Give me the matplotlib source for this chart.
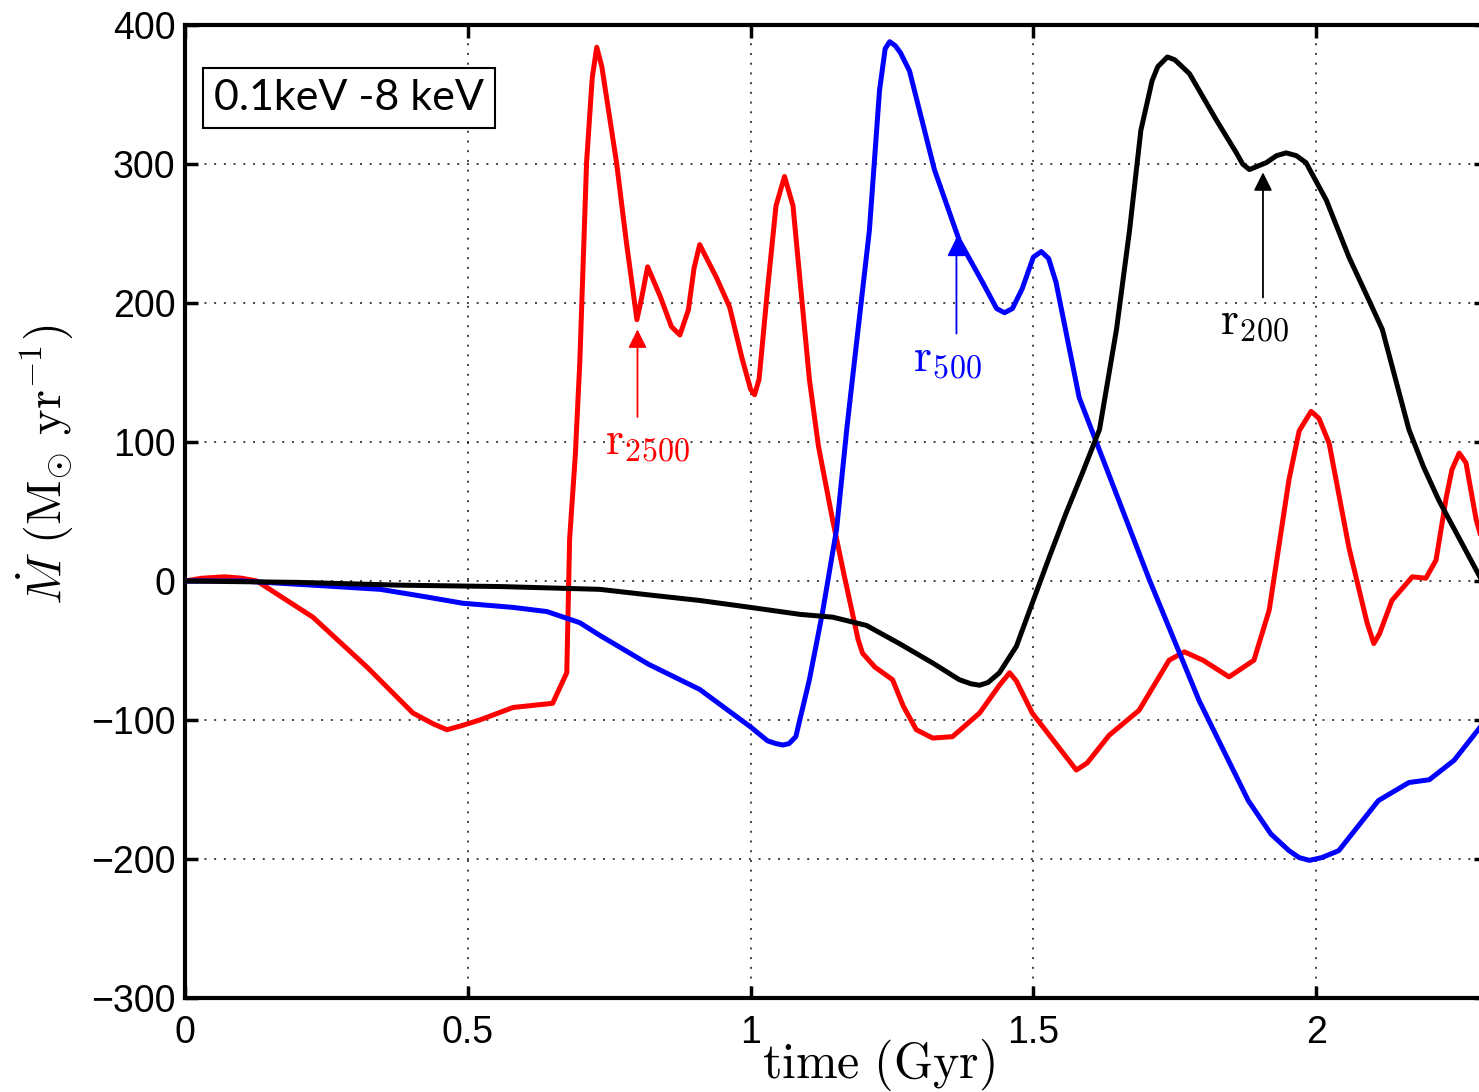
import matplotlib
matplotlib.use("Agg")
import matplotlib.pyplot as plt

# red curve, r2500
t_red = [0, 0.03, 0.07, 0.1, 0.127, 0.226, 0.322, 0.403, 0.44, 0.463, 0.49, 0.521, 0.58,
         0.65, 0.675, 0.68, 0.69, 0.698, 0.71, 0.72, 0.728, 0.737, 0.763, 0.78, 0.799, 0.808,
         0.818, 0.84, 0.86, 0.875, 0.89, 0.9, 0.91, 0.925, 0.94, 0.963, 0.985, 1.0, 1.007,
         1.015, 1.03, 1.045, 1.06, 1.075, 1.09, 1.104, 1.12, 1.145, 1.165, 1.18, 1.19, 1.198,
         1.22, 1.251, 1.27, 1.293, 1.322, 1.357, 1.405, 1.44, 1.458, 1.47, 1.498, 1.555,
         1.576, 1.595, 1.634, 1.687, 1.74, 1.767, 1.80, 1.846, 1.89, 1.917, 1.952, 1.97,
         1.991, 2.005, 2.023, 2.058, 2.09, 2.102, 2.112, 2.134, 2.17, 2.194, 2.212, 2.23,
         2.24, 2.253, 2.265, 2.283, 2.3]
m_red = [0, 2, 3, 2, 0, -26, -62, -95, -103, -107, -104, -100, -91,
         -88, -66, 30, 90, 157, 301, 362, 384, 370, 301, 245, 188, 205,
         226, 205, 183, 177, 195, 225, 242, 230, 218, 197, 160, 138, 134,
         145, 210, 270, 291, 270, 205, 145, 97, 44, 5, -23, -42, -52,
         -62, -71, -90, -107, -113, -112, -95, -75, -66, -72, -95, -125,
         -136, -131, -111, -93, -57, -51, -57, -69, -57, -21, 73, 108,
         122, 117, 99, 24, -30, -45, -38, -14, 3, 2, 15, 60,
         80, 92, 85, 44, 20]

# blue curve, r500
t_blue = [0, 0.1, 0.226, 0.345, 0.42, 0.491, 0.58, 0.64, 0.698, 0.733, 0.82, 0.91, 1.0,
          1.03, 1.045, 1.057, 1.068, 1.08, 1.104, 1.127, 1.152, 1.17, 1.18, 1.21, 1.228,
          1.238, 1.246, 1.256, 1.265, 1.281, 1.325, 1.369, 1.41, 1.435, 1.449, 1.463, 1.48,
          1.50, 1.514, 1.527, 1.54, 1.581, 1.617, 1.705, 1.793, 1.84, 1.88, 1.92, 1.952,
          1.97, 1.988, 2.01, 2.04, 2.11, 2.164, 2.2, 2.244, 2.3]
m_blue = [0, 0, -3, -6, -11, -16, -19, -22, -30, -39, -60, -78, -105,
          -115, -117, -118, -117, -112, -71, -23, 37, 109, 145, 252, 353,
          383, 388, 385, 380, 367, 296, 245, 215, 196, 193, 196, 210,
          233, 237, 232, 215, 132, 94, 1, -86, -125, -158, -182, -194,
          -199, -201, -199, -194, -158, -145, -143, -129, -100]

# black curve, r200
t_black = [0, 0.2, 0.38, 0.557, 0.733, 0.82, 0.91, 1.0, 1.087, 1.145, 1.205, 1.263, 1.322,
           1.369, 1.39, 1.405, 1.42, 1.44, 1.47, 1.498, 1.528, 1.558, 1.587, 1.617, 1.647,
           1.67, 1.69, 1.71, 1.72, 1.737, 1.75, 1.776, 1.823, 1.859, 1.87, 1.882, 1.912,
           1.93, 1.947, 1.965, 1.982, 2.018, 2.058, 2.09, 2.117, 2.164, 2.19, 2.217, 2.3]
m_black = [0, -1, -3, -4, -6, -10, -14, -19, -24, -26, -32, -45, -59,
           -71, -74, -75, -73, -66, -47, -16, 17, 49, 78, 109, 181,
           252, 324, 360, 370, 377, 375, 365, 332, 308, 300, 296, 301,
           306, 308, 306, 301, 274, 233, 205, 181, 109, 82, 58, -5]

x_ticks = [0, 0.5, 1, 1.5, 2]
x_ticklabels = ["0", "0.5", "1", "1.5", "2"]
y_ticks = [-300, -200, -100, 0, 100, 200, 300, 400]

# label text, arrow tip (x,y), text position (x,y), colour
notes = [
    (r"$\mathrm{r}_{2500}$", (0.80, 181), (0.818, 100), "#ff0000"),
    (r"$\mathrm{r}_{500}$", (1.364, 247), (1.348, 160), "#0000ff"),
    (r"$\mathrm{r}_{200}$", (1.906, 294), (1.89, 186), "black"),
]

plt.rcParams['mathtext.fontset'] = 'cm'
plt.rcParams['font.family'] = ['Liberation Sans', 'DejaVu Sans']

fig = plt.figure(figsize=(14.79, 10.92), dpi=100)
ax = fig.add_axes([0.1251, 0.0861, 0.8795, 0.891])

ax.plot(t_red, m_red, color="#ff0000", lw=3.6, zorder=3, solid_joinstyle="round")
ax.plot(t_blue, m_blue, color="#0000ff", lw=3.6, zorder=3, solid_joinstyle="round")
ax.plot(t_black, m_black, color="black", lw=3.6, zorder=3, solid_joinstyle="round")

for txt, tip, pos, col in notes:
    ax.annotate("", xy=tip, xytext=(tip[0], pos[1] + 18),
                arrowprops=dict(arrowstyle="-|>", color=col, lw=1.3,
                                mutation_scale=28, shrinkA=0, shrinkB=0), zorder=4)
    ax.text(pos[0], pos[1], txt, color=col, fontsize=33, ha="center", va="center", zorder=4)

ax.set_xlim(0, 2.3)
ax.set_ylim(-300, 400)
ax.set_xticks(x_ticks)
ax.set_xticklabels(x_ticklabels)
ax.set_yticks(y_ticks)
ax.grid(True, linestyle=(0, (1, 4)), color="black", lw=1.4, alpha=0.75)
ax.tick_params(direction="in", top=True, right=True, length=9, width=2.5,
               labelsize=27, colors="black")
ax.tick_params(axis="x", pad=12)
ax.tick_params(axis="y", pad=7)
for sp in ax.spines.values():
    sp.set_linewidth(3)

fig.text(878 / 1479, 1 - 1065 / 1092, r"$\mathrm{time\ (Gyr)}$", fontsize=36,
         ha="center", va="center")
fig.text(45 / 1479, 1 - 465 / 1092, r"$\dot{M}\ (\mathrm{M}_{\odot}\ \mathrm{yr}^{-1})$",
         fontsize=35, rotation=90, ha="center", va="center")

fig.text(349 / 1479, 1 - 98 / 1092, "0.1keV -8 keV", fontsize=31, family="Lato",
         ha="center", va="center",
         bbox=dict(boxstyle="square,pad=0.25", fc="white", ec="black", lw=1.5))

fig.savefig("out.png", dpi=100)
